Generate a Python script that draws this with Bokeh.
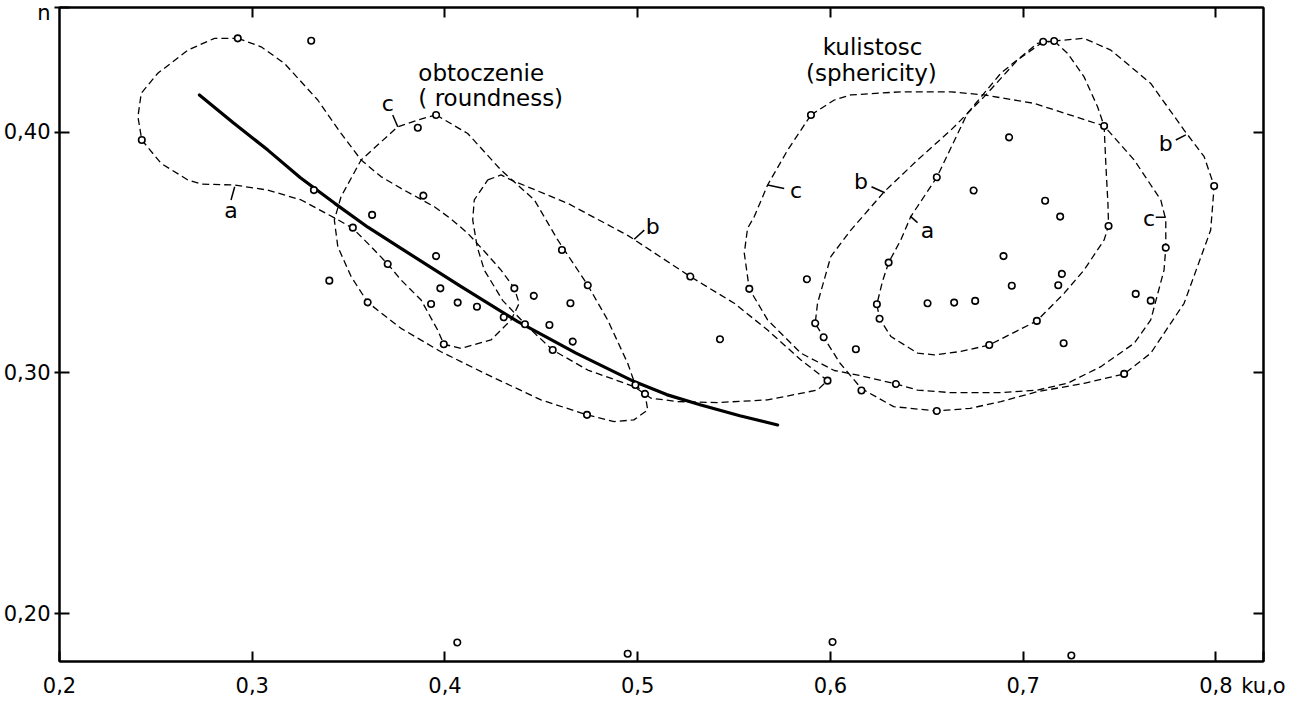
from bokeh.plotting import figure
from bokeh.models import (Range1d, LinearAxis, FixedTicker, CustomJSTickFormatter,
                          CustomLabelingPolicy)
from bokeh.core.properties import value
from bokeh.embed import file_html
from bokeh.resources import INLINE

FONT = "DejaVu Sans"

# ---------------- data ----------------
x_ticks = [0.2, 0.3, 0.4, 0.5, 0.6, 0.7, 0.8]
y_ticks = [0.2, 0.3, 0.4]
x_start, x_end = 0.2, 0.8247
y_start, y_end = 0.1802, 0.4517
x_name = "ku,o"
y_name = "n"

pts_x = [0.2925, 0.3306, 0.2427, 0.3859, 0.3954, 0.3320, 0.3888, 0.3622, 0.3522, 0.3703,
         0.3400, 0.3599, 0.3954, 0.3976, 0.3928, 0.4066, 0.4166, 0.4360, 0.4305, 0.4415,
         0.4461, 0.4542, 0.4607, 0.4651, 0.4741, 0.4663, 0.4559, 0.3994, 0.4737, 0.4988,
         0.5038, 0.5273, 0.5427, 0.5579, 0.5878, 0.5921, 0.5965, 0.5985, 0.5899,
         0.7104, 0.7161, 0.7420, 0.6927, 0.7991, 0.6552, 0.6743, 0.7114, 0.7192, 0.7443,
         0.7740, 0.6898, 0.7201, 0.7182, 0.6941, 0.6302, 0.6241, 0.6255, 0.6504, 0.6642,
         0.6751, 0.7584, 0.7662, 0.7071, 0.6824, 0.7210, 0.6132, 0.7524, 0.6340, 0.6161,
         0.6552,
         0.4064, 0.4948, 0.6011, 0.7250]
pts_y = [0.4389, 0.4379, 0.3967, 0.4018, 0.4071, 0.3759, 0.3736, 0.3656, 0.3603, 0.3452,
         0.3383, 0.3293, 0.3485, 0.3351, 0.3286, 0.3292, 0.3275, 0.3351, 0.3231, 0.3202,
         0.3320, 0.3199, 0.3510, 0.3289, 0.3364, 0.3130, 0.3095, 0.3119, 0.2826, 0.2950,
         0.2913, 0.3400, 0.3140, 0.3349, 0.3389, 0.3206, 0.3148, 0.2968, 0.4071,
         0.4375, 0.4378, 0.4025, 0.3978, 0.3776, 0.3812, 0.3757, 0.3715, 0.3649, 0.3610,
         0.3520, 0.3485, 0.3411, 0.3364, 0.3362, 0.3458, 0.3285, 0.3225, 0.3289, 0.3292,
         0.3299, 0.3328, 0.3300, 0.3216, 0.3116, 0.3123, 0.3098, 0.2996, 0.2954, 0.2927,
         0.2842,
         0.1881, 0.1834, 0.1883, 0.1827]

# solid regression curve
curve_x = [0.2726, 0.2900, 0.3081, 0.3250, 0.3428, 0.3600, 0.3772, 0.4080, 0.4378,
           0.4680, 0.4982, 0.5150, 0.5328, 0.5530, 0.5726]
curve_y = [0.4154, 0.4040, 0.3925, 0.3810, 0.3704, 0.3605, 0.3517, 0.3360, 0.3213,
           0.3082, 0.2964, 0.2910, 0.2867, 0.2822, 0.2784]

# dashed contours - roundness (obtoczenie) a, b, c
round_a_x = [0.2925, 0.3046, 0.3167, 0.3340, 0.3461, 0.3565, 0.3668, 0.3772, 0.3945, 0.4030,
             0.4118, 0.4210, 0.4291, 0.4360, 0.4385, 0.4343, 0.4239, 0.4084, 0.3994, 0.3962,
             0.3876, 0.3772, 0.3703, 0.3617, 0.3522, 0.3435, 0.3254, 0.3081, 0.2908, 0.2735,
             0.2666, 0.2527, 0.2427, 0.2407, 0.2424, 0.2510, 0.2666, 0.2804, 0.2925]
round_a_y = [0.4389, 0.4354, 0.4285, 0.4133, 0.3994, 0.3884, 0.3815, 0.3766, 0.3690, 0.3640,
             0.3580, 0.3500, 0.3427, 0.3351, 0.3289, 0.3220, 0.3137, 0.3102, 0.3119, 0.3178,
             0.3303, 0.3386, 0.3452, 0.3524, 0.3600, 0.3640, 0.3718, 0.3759, 0.3780, 0.3784,
             0.3801, 0.3870, 0.3967, 0.4063, 0.4161, 0.4244, 0.4340, 0.4389, 0.4389]

round_b_x = [0.4222, 0.4291, 0.4343, 0.4637, 0.4950, 0.5273, 0.5501, 0.5674, 0.5847, 0.5985,
             0.5933, 0.5674, 0.5415, 0.5207, 0.5069, 0.4982, 0.4741, 0.4559, 0.4429, 0.4300,
             0.4204, 0.4167, 0.4144, 0.4152, 0.4222]
round_b_y = [0.3801, 0.3822, 0.3801, 0.3704, 0.3570, 0.3400, 0.3289, 0.3178, 0.3054, 0.2968,
             0.2929, 0.2888, 0.2877, 0.2881, 0.2895, 0.2943, 0.3012, 0.3095, 0.3192, 0.3300,
             0.3427, 0.3524, 0.3635, 0.3718, 0.3801]

round_c_x = [0.3954, 0.4118, 0.4291, 0.4464, 0.4585, 0.4741, 0.4844, 0.4948, 0.4988, 0.5038,
             0.5052, 0.4980, 0.4878, 0.4737, 0.4498, 0.4204, 0.3979, 0.3772, 0.3599, 0.3513,
             0.3444, 0.3426, 0.3461, 0.3565, 0.3755, 0.3859, 0.3954]
round_c_y = [0.4071, 0.3994, 0.3842, 0.3718, 0.3552, 0.3364, 0.3220, 0.3040, 0.2950, 0.2913,
             0.2846, 0.2805, 0.2798, 0.2826, 0.2888, 0.2999, 0.3088, 0.3185, 0.3293, 0.3400,
             0.3524, 0.3635, 0.3732, 0.3884, 0.4022, 0.4050, 0.4071]

# dashed contours - sphericity (kulistosc) a, b, c
sph_a_x = [0.7161, 0.7230, 0.7316, 0.7386, 0.7420, 0.7430, 0.7440, 0.7443, 0.7420, 0.7316,
           0.7213, 0.7071, 0.6824, 0.6677, 0.6539, 0.6453, 0.6314, 0.6255, 0.6241, 0.6270,
           0.6302, 0.6365, 0.6417, 0.6552, 0.6711, 0.6884, 0.7074, 0.7161]
sph_a_y = [0.4378, 0.4327, 0.4229, 0.4105, 0.4025, 0.3850, 0.3700, 0.3610, 0.3552, 0.3427,
           0.3331, 0.3216, 0.3116, 0.3089, 0.3075, 0.3082, 0.3151, 0.3225, 0.3285, 0.3380,
           0.3458, 0.3552, 0.3649, 0.3812, 0.4078, 0.4244, 0.4368, 0.4378]

sph_b_x = [0.7104, 0.6971, 0.6798, 0.6625, 0.6452, 0.6279, 0.6106, 0.6002, 0.5933, 0.5921,
           0.5965, 0.6050, 0.6161, 0.6328, 0.6552, 0.6725, 0.6884, 0.7074, 0.7316, 0.7524,
           0.7662, 0.7835, 0.7973, 0.7991, 0.7939, 0.7835, 0.7662, 0.7455, 0.7316, 0.7161,
           0.7104]
sph_b_y = [0.4375, 0.4299, 0.4147, 0.4008, 0.3884, 0.3752, 0.3593, 0.3483, 0.3289, 0.3206,
           0.3148, 0.3040, 0.2935, 0.2860, 0.2842, 0.2853, 0.2881, 0.2922, 0.2957, 0.2996,
           0.3082, 0.3289, 0.3593, 0.3776, 0.3898, 0.4008, 0.4202, 0.4340, 0.4389, 0.4378,
           0.4375]

sph_c_x = [0.5899, 0.6020, 0.6106, 0.6365, 0.6625, 0.6798, 0.7057, 0.7420, 0.7576, 0.7714,
           0.7740, 0.7740, 0.7731, 0.7662, 0.7576, 0.7403, 0.7230, 0.7074, 0.6884, 0.6625,
           0.6452, 0.6340, 0.6150, 0.6020, 0.5847, 0.5674, 0.5579, 0.5553, 0.5570, 0.5605,
           0.5674, 0.5778, 0.5899]
sph_c_y = [0.4071, 0.4133, 0.4154, 0.4167, 0.4167, 0.4154, 0.4119, 0.4025, 0.3884, 0.3718,
           0.3635, 0.3520, 0.3427, 0.3220, 0.3123, 0.3026, 0.2957, 0.2929, 0.2918, 0.2918,
           0.2929, 0.2954, 0.2990, 0.3010, 0.3082, 0.3220, 0.3349, 0.3497, 0.3600, 0.3649,
           0.3780, 0.3925, 0.4071]

contours = [(round_a_x, round_a_y), (round_b_x, round_b_y), (round_c_x, round_c_y),
            (sph_a_x, sph_a_y), (sph_b_x, sph_b_y), (sph_c_x, sph_c_y)]

# contour letter labels and their leader ticks
letter_text = ["a", "c", "b", "c", "b", "a", "b", "c"]
letter_x = [0.2890, 0.3703, 0.5078, 0.5821, 0.6158, 0.6504, 0.7740, 0.7653]
letter_y = [0.3673, 0.4119, 0.3607, 0.3759, 0.3794, 0.3593, 0.3953, 0.3642]
lead_x0 = [0.2909, 0.3755, 0.4982, 0.5674, 0.6213, 0.6414, 0.7792, 0.7688]
lead_y0 = [0.3773, 0.4022, 0.3555, 0.3780, 0.3773, 0.3651, 0.3967, 0.3646]
lead_x1 = [0.2890, 0.3729, 0.5034, 0.5760, 0.6282, 0.6452, 0.7844, 0.7740]
lead_y1 = [0.3718, 0.4071, 0.3593, 0.3766, 0.3748, 0.3624, 0.3988, 0.3646]

group_text = ["obtoczenie", "( roundness)", "kulistosc", "(sphericity)"]
group_x = [0.3862, 0.3862, 0.5960, 0.5873]
group_y = [0.4244, 0.4140, 0.4354, 0.4244]

# ---------------- figure ----------------
p = figure(width=1305, height=702,
           x_range=Range1d(x_start, x_end), y_range=Range1d(y_start, y_end),
           output_backend="svg", toolbar_location=None,
           min_border_left=58, min_border_right=42, min_border_top=7, min_border_bottom=41)
p.xgrid.visible = False
p.ygrid.visible = False
p.outline_line_color = "black"
p.outline_line_width = 2
p.outline_line_alpha = 1
p.background_fill_color = "white"
p.border_fill_color = "white"

# the axis names sit at the far ends of the axes, as in the original drawing
fx = CustomJSTickFormatter(args=dict(name=x_name, end=x_end), code="""
if (Math.abs(tick - end) < 1e-9) { return name; }
return tick.toFixed(1).replace('.', ',');
""")
fy = CustomJSTickFormatter(args=dict(name=y_name, end=y_end), code="""
if (Math.abs(tick - end) < 1e-9) { return name; }
return tick.toFixed(2).replace('.', ',');
""")

bottom = p.below[0]
left = p.left[0]
bottom.ticker = FixedTicker(ticks=x_ticks + [x_end])
bottom.formatter = fx
left.ticker = FixedTicker(ticks=y_ticks + [y_end])
left.formatter = fy

no_labels = CustomLabelingPolicy(code="""
const all = Array.from(indices);
for (const i of all) { indices.unset(i); }
return indices;
""")
top = LinearAxis(ticker=FixedTicker(ticks=x_ticks[1:]), major_label_policy=no_labels)
right = LinearAxis(ticker=FixedTicker(ticks=y_ticks), major_label_policy=no_labels)
p.add_layout(top, "above")
p.add_layout(right, "right")

for ax in [bottom, left, top, right]:
    ax.axis_line_color = "black"
    ax.axis_line_width = 2
    ax.major_tick_line_color = "black"
    ax.major_tick_line_width = 2
    ax.major_tick_in = 10
    ax.major_tick_out = 0
    ax.minor_tick_line_color = None
    ax.major_label_text_font = FONT
    ax.major_label_text_font_size = "21px"
    ax.major_label_text_color = "black"
left.major_tick_out = 5
left.major_label_standoff = 4
bottom.major_label_standoff = 12
for ax in [top, right]:
    ax.major_label_standoff = 0
    ax.major_label_text_font_size = "1px"

for cx, cy in contours:
    p.line(cx, cy, line_color="black", line_width=1.3, line_dash="7 4")

p.line(curve_x, curve_y, line_color="black", line_width=3.2, line_cap="round")

p.scatter(pts_x, pts_y, marker="circle", size=6.5, fill_color="white",
          line_color="black", line_width=1.6)

p.segment(lead_x0, lead_y0, lead_x1, lead_y1, line_color="black", line_width=1.5)
p.text(letter_x, letter_y, text=letter_text, text_font=value(FONT), text_font_size="22px",
       text_align="center", text_baseline="middle", text_color="black")
p.text(group_x, group_y, text=group_text, text_font=value(FONT), text_font_size="23px",
       text_align="left", text_baseline="middle", text_color="black")

open("out.html", "w").write(file_html(p, INLINE))
